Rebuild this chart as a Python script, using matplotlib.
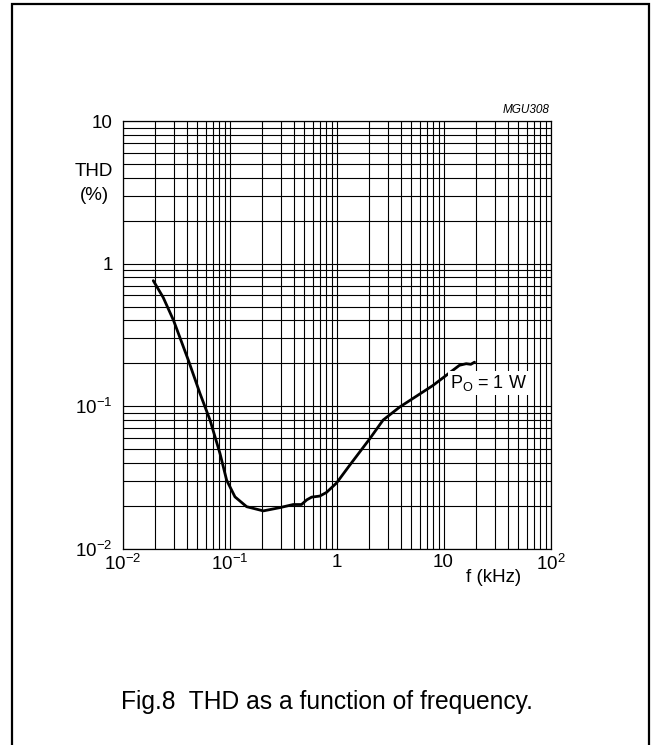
import matplotlib
matplotlib.use("Agg")
import matplotlib.pyplot as plt
from matplotlib.patches import Rectangle
from matplotlib.ticker import FixedLocator, FixedFormatter, NullFormatter

plt.rcParams['font.family'] = ['Liberation Sans', 'DejaVu Sans']
plt.rcParams['mathtext.fontset'] = 'custom'
plt.rcParams['mathtext.rm'] = 'Liberation Sans'
plt.rcParams['mathtext.it'] = 'Liberation Sans:italic'

# data
freq_khz = [0.0194, 0.024, 0.030, 0.0413, 0.053, 0.0658, 0.0815, 0.094, 0.1125,
            0.1446, 0.207, 0.296, 0.394, 0.471, 0.527, 0.586, 0.698, 0.805, 1.0,
            1.33, 2.05, 2.72, 3.89, 7.96, 14.1, 16.3, 18.0, 19.5]
thd_pct = [0.76, 0.58, 0.40, 0.21, 0.123, 0.080, 0.0467, 0.0304, 0.0232,
           0.0198, 0.0185, 0.0195, 0.0205, 0.0205, 0.0221, 0.0231, 0.0235, 0.0249, 0.029,
           0.0387, 0.0594, 0.080, 0.0988, 0.140, 0.194, 0.199, 0.197, 0.204]

x_ticks = [0.01, 0.1, 1, 10, 100]
x_tick_labels = [r'$\mathregular{10^{-2}}$', r'$\mathregular{10^{-1}}$', '1', '10', r'$\mathregular{10^{2}}$']
y_ticks = [0.01, 0.1, 1, 10]
y_tick_labels = [r'$\mathregular{10^{-2}}$', r'$\mathregular{10^{-1}}$', '1', '10']
curve_label = r'$\mathregular{P_O}$ = 1 W'

W, H = 654, 745
fig = plt.figure(figsize=(W / 100, H / 100), dpi=100)

def fx(px):
    return px / W

def fy(py):
    return 1 - py / H

ax = fig.add_axes([fx(122.5), fy(549), fx(550.5) - fx(122.5), fy(121) - fy(549)])
ax.set_xscale('log')
ax.set_yscale('log')
ax.set_xlim(0.01, 100)
ax.set_ylim(0.01, 10)

ax.xaxis.set_major_locator(FixedLocator(x_ticks))
ax.xaxis.set_major_formatter(FixedFormatter(x_tick_labels))
ax.yaxis.set_major_locator(FixedLocator(y_ticks))
ax.yaxis.set_major_formatter(FixedFormatter(y_tick_labels))
ax.xaxis.set_minor_formatter(NullFormatter())
ax.yaxis.set_minor_formatter(NullFormatter())

ax.grid(True, which='both', color='black', linewidth=0.8)
ax.tick_params(which='both', length=0)
ax.tick_params(axis='x', labelsize=13.5, pad=3.5)
ax.tick_params(axis='y', labelsize=13.5, pad=7)
for s in ax.spines.values():
    s.set_linewidth(0.9)

ax.plot(freq_khz, thd_pct, color='black', linewidth=2.0, solid_capstyle='round')

ax.text(11.5, 0.146, curve_label, fontsize=13, ha='left', va='center',
        bbox=dict(facecolor='white', edgecolor='none', pad=1.5))

fig.text(fx(94), fy(171), 'THD', ha='center', va='center', fontsize=13.5)
fig.text(fx(94), fy(195), '(%)', ha='center', va='center', fontsize=13.5)
fig.text(fx(494), fy(578), 'f (kHz)', ha='center', va='center', fontsize=13.5)
fig.text(fx(550), fy(112.7), 'MGU308', ha='right', va='baseline', fontsize=8.5, style='italic')
fig.text(fx(327), fy(709), 'Fig.8  THD as a function of frequency.', ha='center',
         va='baseline', fontsize=17.7)

fig.patches.append(Rectangle((fx(12), fy(760)), fx(649) - fx(12), fy(4) - fy(760),
                             transform=fig.transFigure, fill=False,
                             edgecolor='black', linewidth=1.6))

fig.savefig('out.png', dpi=100)
